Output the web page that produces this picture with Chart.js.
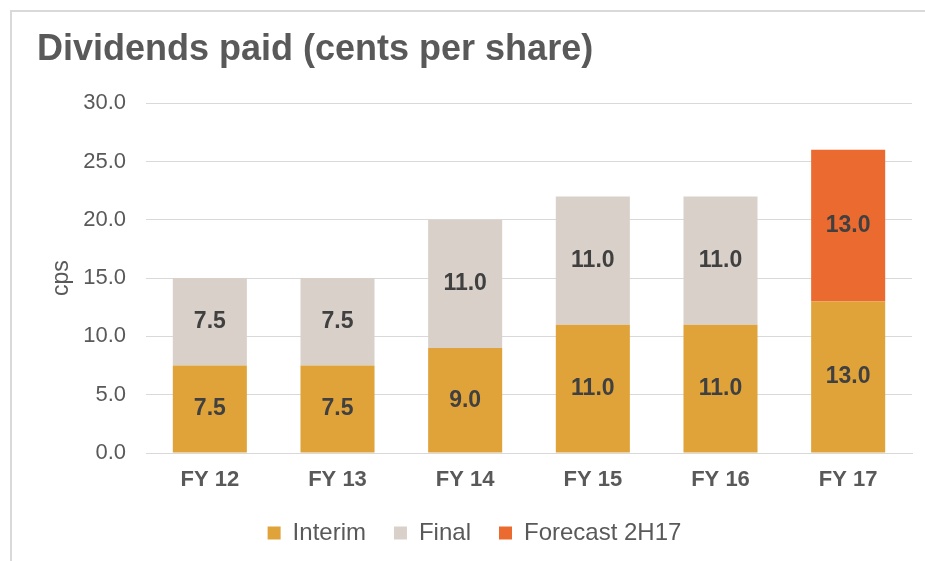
<!DOCTYPE html>
<html>
<head>
<meta charset="utf-8">
<script src="https://cdn.jsdelivr.net/npm/chart.js@4"></script>
<style>
  html, body { margin: 0; padding: 0; background: #fff; }
  #frame {
    position: absolute; left: 10px; top: 10px; width: 915px; height: 551px;
    border-top: 2px solid #d9d9d9; border-left: 2px solid #d9d9d9;
  }
  #wrap { position: absolute; left: 0; top: 0; width: 913px; height: 549px; }
</style>
</head>
<body>
<div id="frame"><div id="wrap"><canvas id="myChart"></canvas></div></div>
<script>
// data
const categories = ['FY 12', 'FY 13', 'FY 14', 'FY 15', 'FY 16', 'FY 17'];
const interim = [7.5, 7.5, 9.0, 11.0, 11.0, 13.0];
const finalDiv = [7.5, 7.5, 11.0, 11.0, 11.0, null];
const forecast = [null, null, null, null, null, 13.0];
const yTicks = [0, 5, 10, 15, 20, 25, 30];

const FONT = "'Liberation Sans', Arial, sans-serif";

// labels inside the bars
const barLabels = {
  id: 'barLabels',
  afterDatasetsDraw(chart) {
    const c = chart.ctx;
    c.save();
    c.font = 'bold 23px ' + FONT;
    c.fillStyle = '#404040';
    c.textAlign = 'center';
    c.textBaseline = 'middle';
    chart.data.datasets.forEach((ds, i) => {
      const meta = chart.getDatasetMeta(i);
      meta.data.forEach((bar, j) => {
        const v = ds.data[j];
        if (v == null) return;
        c.fillText(v.toFixed(1), bar.x, (bar.y + bar.base) / 2);
      });
    });
    c.restore();
  }
};

const ctx = document.getElementById('myChart').getContext('2d');
const chart = new Chart(ctx, {
  type: 'bar',
  data: {
    labels: categories,
    datasets: [
      { label: 'Interim', data: interim, backgroundColor: '#E0A33A' },
      { label: 'Final', data: finalDiv, backgroundColor: '#D9D1C9' },
      { label: 'Forecast 2H17', data: forecast, backgroundColor: '#EB6A2F' }
    ]
  },
  options: {
    responsive: true,
    maintainAspectRatio: false,
    animation: false,
    datasets: { bar: { categoryPercentage: 1, barPercentage: 0.58 } },
    layout: { padding: { left: 25, right: 13, top: 0, bottom: 6 } },
    plugins: {
      title: {
        display: true,
        text: 'Dividends paid (cents per share)',
        align: 'start',
        color: '#595959',
        font: { family: FONT, size: 36, weight: 'bold' },
        padding: { top: 16, bottom: 32 }
      },
      legend: {
        position: 'bottom',
        labels: {
          color: '#595959',
          font: { family: FONT, size: 24 },
          boxWidth: 13, boxHeight: 13,
          padding: 28
        }
      },
      tooltip: { enabled: false }
    },
    scales: {
      x: {
        stacked: true,
        grid: { display: false, drawTicks: false },
        border: { color: '#d9d9d9', width: 1 },
        ticks: { color: '#595959', font: { family: FONT, size: 22, weight: 'bold' }, padding: 14 },
        afterFit: axis => { axis.height = 40; }
      },
      y: {
        stacked: true,
        min: 0, max: 30,
        afterBuildTicks: axis => { axis.ticks = yTicks.map(v => ({ value: v })); },
        grid: { color: '#d9d9d9', drawTicks: false },
        border: { display: false },
        title: { display: true, text: 'cps', color: '#595959', font: { family: FONT, size: 23 }, padding: { top: 11, bottom: 7 } },
        ticks: { color: '#595959', font: { family: FONT, size: 22 }, padding: 20, callback: v => v.toFixed(1) },
        afterFit: axis => { axis.width = 109; }
      }
    }
  },
  plugins: [barLabels]
});
</script>
</body>
</html>
